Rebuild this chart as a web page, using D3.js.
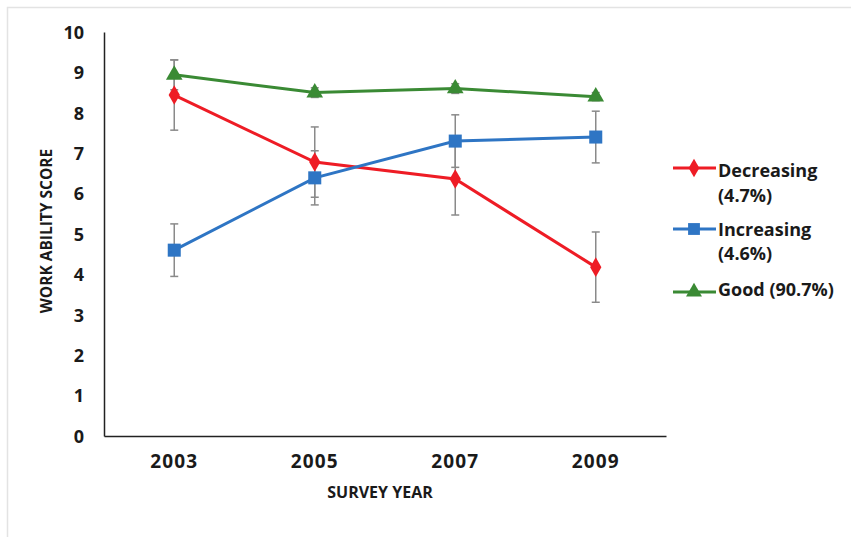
<!DOCTYPE html>
<html><head><meta charset="utf-8">
<script src="https://cdn.jsdelivr.net/npm/d3@7"></script>
<style>
html,body{margin:0;padding:0;background:#fff;}
svg{display:block;}
text{font-family:"Open Sans","Liberation Sans",sans-serif;font-weight:700;fill:#1a1a1a;}
</style></head>
<body><svg id="c" width="851" height="537"></svg>
<script>
const years = ["2003","2005","2007","2009"];
const yTicks = [0,1,2,3,4,5,6,7,8,9,10];
const decreasing = [8.44, 6.78, 6.36, 4.18];
const decreasingErr = [0.87, 0.87, 0.89, 0.87];
const increasing = [4.60, 6.39, 7.30, 7.40];
const increasingErr = [0.65, 0.67, 0.65, 0.64];
const good = [8.94, 8.50, 8.60, 8.40];
const goodErr = [0.37, 0.12, 0.12, 0.10];
const legendLabels = [["Decreasing","(4.7%)"], ["Increasing","(4.6%)"], ["Good (90.7%)"]];

const series = [
  {values: decreasing, err: decreasingErr, color: "#ee1c25", shape: d3.symbolDiamond},
  {values: increasing, err: increasingErr, color: "#2e75c4", shape: d3.symbolSquare},
  {values: good, err: goodErr, color: "#3a8a34", shape: d3.symbolTriangle}
];

const svg = d3.select("#c");
// frame
svg.append("path").attr("d","M7.5,537 V7.5 H851").attr("fill","none").attr("stroke","#e3e3e3").attr("stroke-width",1.5);

const x = d3.scaleBand().domain(years).range([104, 666]);
const y = d3.scaleLinear().domain([0,10]).range([436, 32]);

// y axis
const ya = svg.append("g").attr("transform","translate(104,0)")
  .call(d3.axisLeft(y).tickValues(yTicks).tickSize(0).tickPadding(20).tickFormat(d3.format("d")));
ya.select(".domain").attr("stroke","#222").attr("stroke-width",1.5);
ya.selectAll("text").style("font-size","18px").attr("dy","0.35em");

// x axis
const xa = svg.append("g").attr("transform","translate(0,436)")
  .call(d3.axisBottom(x).tickSize(0).tickPadding(19));
xa.select(".domain").attr("stroke","#222").attr("stroke-width",1.5);
xa.selectAll("text").style("font-size","19px").style("letter-spacing","1.2px");

// axis titles
svg.append("text").attr("x",380).attr("y",498).attr("text-anchor","middle").style("font-size","16px").text("SURVEY YEAR");
svg.append("text").attr("transform","translate(52,231) rotate(-90)").attr("text-anchor","middle").style("font-size","15.5px").text("WORK ABILITY SCORE");

const cx = d => x(d) + x.bandwidth()/2;

// error bars
series.forEach(s => {
  const g = svg.append("g");
  s.values.forEach((v,i) => {
    const xx = cx(years[i]);
    const hi = y(v + s.err[i]), lo = y(v - s.err[i]);
    g.append("line").attr("x1",xx).attr("x2",xx).attr("y1",hi).attr("y2",lo).attr("stroke","#8a8a8a").attr("stroke-width",1.5);
    [hi,lo].forEach(yy => g.append("line").attr("x1",xx-4).attr("x2",xx+4).attr("y1",yy).attr("y2",yy).attr("stroke","#8a8a8a").attr("stroke-width",1.5));
  });
});

// lines and markers
const line = d3.line().x((d,i) => cx(years[i])).y(d => y(d));
series.forEach(s => {
  svg.append("path").datum(s.values).attr("d", line).attr("fill","none").attr("stroke", s.color).attr("stroke-width",3);
  svg.append("g").selectAll("path").data(s.values).join("path")
    .attr("transform",(d,i)=>`translate(${cx(years[i])},${y(d)})`)
    .attr("d", d3.symbol().type(s.shape).size(s.shape===d3.symbolSquare?170:(s.shape===d3.symbolDiamond?110:120)))
    .attr("fill", s.color);
});

// legend
const legendRows = [
  {s: series[0], lines: legendLabels[0], ly: 168, ty: [171, 196]},
  {s: series[1], lines: legendLabels[1], ly: 229, ty: [229.5, 254]},
  {s: series[2], lines: legendLabels[2], ly: 292, ty: [290]}
];
legendRows.forEach(r => {
  const g = svg.append("g");
  g.append("line").attr("x1",673).attr("x2",716).attr("y1",r.ly).attr("y2",r.ly).attr("stroke",r.s.color).attr("stroke-width",3);
  g.append("path").attr("transform",`translate(694,${r.ly})`)
    .attr("d", d3.symbol().type(r.s.shape).size(r.s.shape===d3.symbolSquare?140:(r.s.shape===d3.symbolDiamond?100:110)))
    .attr("fill", r.s.color);
  r.lines.forEach((t,k) => {
    g.append("text").attr("x",718).attr("y",r.ty[k]).attr("dy","0.35em").style("font-size","18px").text(t);
  });
});
</script></body></html>
